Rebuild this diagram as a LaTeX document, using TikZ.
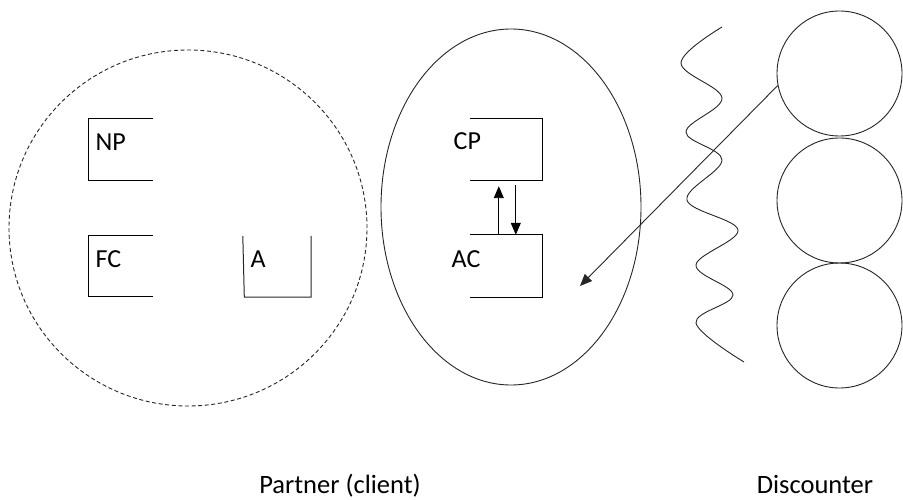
\documentclass[tikz,border=0pt]{standalone}
\usepackage{fontspec}
\setmainfont{Carlito}
\usetikzlibrary{arrows.meta,shapes.geometric}

\begin{document}
\begin{tikzpicture}[x=1pt,y=-1pt,
  ink/.style={draw=black!85,line width=0.9pt},
  hold/.style={draw=none,inner sep=0pt,minimum height=61pt},
  lbl/.style={inner sep=0pt,anchor=base west,font=\fontsize{26}{31}\selectfont},
  caption/.style={inner sep=0pt,anchor=base,font=\fontsize{26.5}{31}\selectfont},
  tip/.style={-{Triangle[length=12pt,width=10pt]}},
  disc/.style={circle,ink,minimum size=125pt,inner sep=0pt}]
\useasboundingbox (0,0) rectangle (903,500);

% client side: dashed outer boundary
\node[ellipse,ink,dash pattern=on 4pt off 2.6pt,minimum width=358pt,minimum height=356pt,inner sep=0pt] (client) at (188,228) {};
% partner ellipse
\node[ellipse,ink,minimum width=260pt,minimum height=356pt,inner sep=0pt] (partner) at (511,207) {};

% open boxes inside the client area
\node[hold,minimum width=64pt] (npbox) at (121,149.5) {};
\node[hold,minimum width=64pt] (fcbox) at (121,266) {};
\node[hold,minimum width=68pt] (abox) at (277,266.5) {};
\draw[ink,draw=black,line width=1pt] (npbox.north east) -- (npbox.north west) -- (npbox.south west) -- (npbox.south east);
\draw[ink,draw=black,line width=1pt] (fcbox.north east) -- (fcbox.north west) -- (fcbox.south west) -- (fcbox.south east);
\draw[ink,line width=1pt] (abox.north west) -- ([xshift=1.5pt]abox.south west) -- (abox.south east) -- (abox.north east);
\node[lbl] (np) at (95.5,151) {NP};
\node[lbl] (fc) at (95.5,267) {FC};
\node[lbl] (a) at (250.5,267) {A};

% open boxes inside the partner ellipse
\node[hold,minimum width=72pt] (cpbox) at (506,149.5) {};
\node[hold,minimum width=72pt,minimum height=62pt] (acbox) at (506,266) {};
\draw[ink,draw=black,line width=1pt] (cpbox.north west) -- (cpbox.north east) -- (cpbox.south east) -- (cpbox.south west);
\draw[ink,draw=black,line width=1pt] (acbox.north west) -- (acbox.north east) -- (acbox.south east) -- (acbox.south west);
\node[lbl] (cp) at (453.5,150) {CP};
\node[lbl] (ac) at (451.5,267) {AC};

% exchange between CP and AC
\draw[ink,draw=black,tip,shorten >=6pt] ([xshift=29pt]acbox.north west) -- ([xshift=29pt]cpbox.south west);
\draw[ink,draw=black,tip,shorten <=5pt] ([xshift=46pt]cpbox.south west) -- ([xshift=46pt]acbox.north west);

% wavy boundary
\draw[ink] plot[smooth,tension=0.6] coordinates {(722,27) (681,63) (722,98) (686,132) (722,160) (687,200) (738,230) (696,265) (733,295) (696,323) (744,362)};

% discounter stack
\node[disc] (d1) at (839.5,73.5) {};
\node[disc] (d2) at (839.5,200.5) {};
\node[disc] (d3) at (839.5,325.5) {};

% long arrow into the partner ellipse
\coordinate (target) at (580,286);
\draw[ink,tip] (d1.191.5) -- (target);

% captions
\node[caption] (partnerlbl) at (340,493.5) {Partner (client)};
\node[caption] (discounterlbl) at (815,493.5) {Discounter};
\end{tikzpicture}
\end{document}
